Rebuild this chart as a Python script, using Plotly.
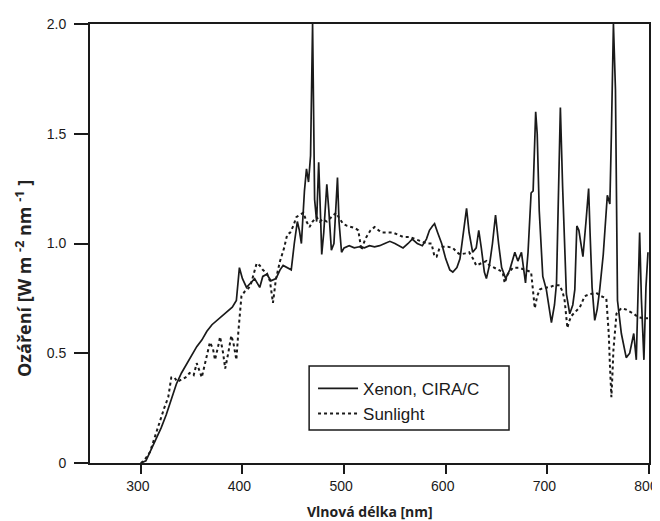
import plotly.graph_objects as go

# Xenon, CIRA/C (solid) — wavelength [nm] and irradiance
xenon_wl = [300, 305, 310, 315, 320, 325, 330, 335, 340, 345, 350, 355, 360, 365, 370, 375, 380, 385, 390, 394,
            397, 400, 404, 408, 412, 417, 420, 424, 428, 433, 437, 440, 444, 448, 451, 454, 456, 458, 461, 463,
            465, 467, 469, 471, 473, 475, 477, 478, 480, 483, 485, 487.5, 490, 493.5, 495, 497.5, 500, 505, 510, 515,
            520, 525, 530, 535, 540, 545, 550, 555, 558, 563, 567, 572, 577, 581, 584, 587, 589, 592, 596, 600,
            604, 607, 611, 614, 617, 620.5, 623, 626.5, 630, 632.5, 635, 638, 640, 643, 646, 649, 652, 655, 659, 663,
            668, 671, 674.5, 678.5, 681, 684, 686, 688.5, 690, 692, 695.5, 699, 704, 707, 709, 711, 712.8, 715, 717, 718.7,
            722, 725, 727, 729, 731, 733, 735, 738, 740.6, 742, 744, 746.6, 749, 751.5, 755, 759, 761.5, 763, 765, 767,
            769, 772.8, 777.6, 781, 783, 785, 787.5, 789.5, 790.8, 792.5, 795, 797, 799]
xenon_irr = [0.0, 0.01, 0.06, 0.11, 0.16, 0.22, 0.29, 0.36, 0.41, 0.45, 0.49, 0.53, 0.56, 0.60, 0.63, 0.65, 0.67, 0.69, 0.71, 0.74,
             0.89, 0.84, 0.80, 0.82, 0.84, 0.80, 0.85, 0.86, 0.83, 0.84, 0.88, 0.90, 0.89, 0.88, 1.00, 1.10, 1.06, 1.00, 1.24, 1.34,
             1.28, 1.40, 2.0, 1.20, 1.10, 1.37, 1.10, 0.95, 1.05, 1.27, 1.15, 0.97, 1.00, 1.30, 1.10, 0.96, 0.98, 0.99, 0.98, 0.985,
             0.98, 0.99, 0.985, 0.99, 1.00, 1.01, 1.00, 0.985, 0.98, 1.00, 1.02, 1.00, 0.99, 1.02, 1.06, 1.08, 1.09, 1.05, 1.00, 0.93,
             0.88, 0.87, 0.89, 0.93, 1.05, 1.16, 1.05, 0.96, 0.98, 1.06, 0.98, 0.87, 0.84, 0.90, 1.00, 1.13, 1.00, 0.89, 0.84, 0.88,
             0.96, 0.92, 0.96, 0.82, 0.96, 1.23, 1.24, 1.60, 1.50, 1.15, 0.85, 0.79, 0.64, 0.72, 0.82, 1.20, 1.62, 1.26, 0.95, 0.77,
             0.68, 0.72, 0.79, 1.08, 1.06, 1.00, 0.94, 1.10, 1.25, 1.05, 0.80, 0.65, 0.70, 0.79, 0.95, 1.22, 1.18, 1.50, 2.0, 1.70,
             0.74, 0.59, 0.48, 0.50, 0.55, 0.59, 0.47, 0.80, 1.05, 0.75, 0.47, 0.80, 0.96]

# Sunlight (dotted)
sun_wl = [300, 303, 309, 314, 319, 323, 327, 330, 333, 336, 340, 344, 348, 352, 355, 358, 360, 364, 368, 371,
          373, 376, 378, 381, 383, 386, 389, 391, 394, 396, 399, 402, 405, 408, 411, 414, 417, 420, 424, 427,
          430, 433, 437, 441, 444, 447, 450, 453, 456, 460, 463, 466, 469, 473, 476, 479, 483, 487, 492, 496,
          499, 503, 507, 511, 514, 517, 520, 522, 526, 530, 534, 537, 542, 548, 553, 558, 564, 571, 576, 581,
          586, 589, 591, 594, 597, 602, 607, 611, 614, 619, 623, 627, 630, 635, 640, 643, 648, 652, 656, 658,
          661, 666, 672, 679, 684, 686, 687.6, 690, 692.5, 697, 702, 707, 712, 715, 717, 719.7, 721, 723.6, 728, 732,
          736.7, 742, 748, 753, 758, 760.4, 761.5, 763, 764, 765, 768, 772.7, 777, 781, 785, 789, 794, 799]
sun_irr = [0.0, 0.01, 0.05, 0.12, 0.20, 0.25, 0.30, 0.39, 0.39, 0.37, 0.38, 0.39, 0.41, 0.40, 0.455, 0.42, 0.39, 0.47, 0.55, 0.52,
           0.47, 0.53, 0.575, 0.50, 0.43, 0.50, 0.58, 0.55, 0.47, 0.60, 0.76, 0.78, 0.79, 0.81, 0.86, 0.91, 0.90, 0.88, 0.865, 0.83,
           0.73, 0.84, 0.92, 0.98, 1.04, 1.05, 1.08, 1.12, 1.13, 1.14, 1.10, 1.075, 1.10, 1.12, 1.10, 1.11, 1.10, 1.12, 1.14, 1.11,
           1.09, 1.08, 1.075, 1.07, 1.06, 0.97, 1.01, 1.03, 1.06, 1.075, 1.06, 1.05, 1.05, 1.05, 1.04, 1.03, 1.03, 1.02, 1.01, 1.00,
           1.00, 0.94, 0.94, 0.98, 0.985, 0.985, 0.98, 0.96, 0.95, 0.955, 0.96, 0.93, 0.90, 0.91, 0.92, 0.90, 0.89, 0.88, 0.87, 0.82,
           0.86, 0.89, 0.89, 0.88, 0.87, 0.78, 0.705, 0.76, 0.79, 0.80, 0.80, 0.81, 0.81, 0.78, 0.74, 0.615, 0.64, 0.67, 0.69, 0.71,
           0.76, 0.77, 0.775, 0.76, 0.75, 0.59, 0.45, 0.30, 0.40, 0.515, 0.68, 0.705, 0.70, 0.69, 0.68, 0.665, 0.66, 0.66]

x_ticks = [300, 400, 500, 600, 700, 800]
x_tick_labels = ["300", "400", "500", "600", "700", "800"]
y_ticks = [0, 0.5, 1.0, 1.5, 2.0]
y_tick_labels = ["0", "0.5", "1.0", "1.5", "2.0"]

x_title = "<b>Vlnová délka [nm]</b>"
y_title = "<b>Ozáření [W m <sup>-2</sup> nm <sup>-1</sup> ]</b>"

INK = "#1a1a1a"

fig = go.Figure()
fig.add_trace(go.Scatter(x=xenon_wl, y=xenon_irr, mode="lines", name="Xenon, CIRA/C",
                         line=dict(color=INK, width=1.7)))
fig.add_trace(go.Scatter(x=sun_wl, y=sun_irr, mode="lines", name="Sunlight",
                         line=dict(color=INK, width=2, dash="dot")))

# page body adds an 8px offset, so margins compensate for it
fig.update_layout(
    width=660, height=513,
    margin=dict(l=82, r=19, t=16, b=58, autoexpand=False),
    paper_bgcolor="white", plot_bgcolor="white",
    showlegend=True,
    legend=dict(x=0.399, y=0.210, xanchor="left", yanchor="top",
                bgcolor="rgba(0,0,0,0)", borderwidth=0, itemwidth=40,
                font=dict(family="Liberation Sans, Arial", size=17, color=INK),
                tracegroupgap=0),
    shapes=[dict(type="rect", xref="paper", yref="paper", x0=0.392, x1=0.7496, y0=0.075, y1=0.221,
                 line=dict(color=INK, width=1.5), fillcolor="rgba(0,0,0,0)")],
    annotations=[
        dict(text=x_title, xref="paper", yref="paper", x=0.501, y=-0.1116,
             xanchor="center", yanchor="middle", showarrow=False,
             font=dict(family="Open Sans, Lato", size=14, color="#222")),
        dict(text=y_title, xref="paper", yref="paper", x=-0.119, y=0.42,
             xanchor="center", yanchor="middle", showarrow=False, textangle=-90,
             font=dict(family="Open Sans, Lato", size=18, color="#222")),
    ],
)
fig.update_xaxes(range=[250, 800], tickvals=x_ticks, ticktext=x_tick_labels, automargin=False,
                 showline=True, linecolor=INK, linewidth=2, mirror=True,
                 ticks="outside", ticklen=9, tickwidth=2, tickcolor=INK,
                 ticklabeloverflow="allow", ticklabelshift=-3,
                 showgrid=False, zeroline=False,
                 tickfont=dict(family="Liberation Sans, Arial", size=14, color=INK))
fig.update_yaxes(range=[0, 2.0], tickvals=y_ticks, ticktext=y_tick_labels, automargin=False,
                 showline=True, linecolor=INK, linewidth=2, mirror=True,
                 ticks="outside", ticklen=14, tickwidth=2, tickcolor=INK, ticklabelstandoff=5,
                 showgrid=False, zeroline=False,
                 tickfont=dict(family="Liberation Sans, Arial", size=14, color=INK))

fig.write_html("out.html")
